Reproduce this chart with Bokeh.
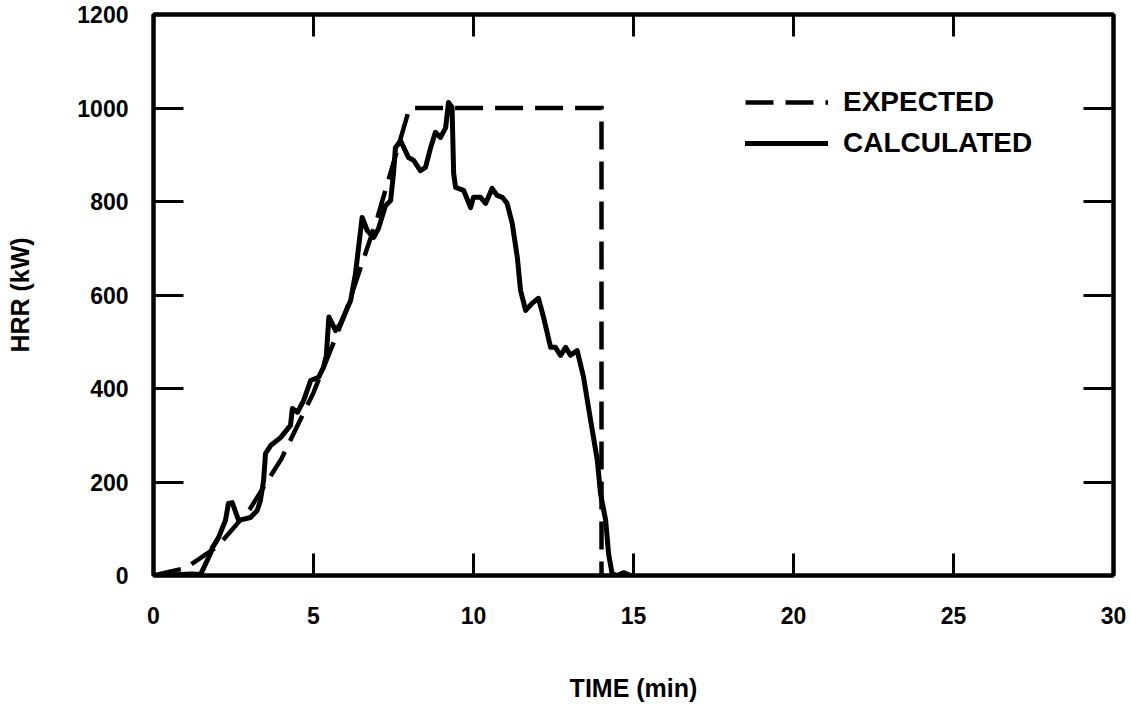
from bokeh.plotting import figure
from bokeh.models import FixedTicker, LinearAxis, Legend, LegendItem, Range1d
from bokeh.embed import file_html
from bokeh.resources import INLINE

# ---- data ----
time_expected = [0, 1, 2, 3, 4, 5, 6, 7, 8, 14, 14]
hrr_expected = [0, 16, 62, 141, 250, 391, 562, 766, 1000, 1000, 0]

time_calculated = [0, 0.4, 0.8, 1.2, 1.47, 1.78, 1.83, 2.03, 2.25, 2.34, 2.46, 2.66,
                   3.03, 3.24, 3.34, 3.44, 3.5, 3.66, 3.97, 4.28, 4.34, 4.5, 4.69,
                   4.91, 5.16, 5.31, 5.4, 5.48, 5.69, 5.84, 6.16, 6.31, 6.52, 6.68,
                   6.88, 7.03, 7.25, 7.41, 7.5, 7.56, 7.72, 7.97, 8.13, 8.34, 8.5,
                   8.66, 8.81, 8.97, 9.13, 9.22, 9.33, 9.38, 9.44, 9.69, 9.91, 10.0,
                   10.22, 10.38, 10.58, 10.74, 10.9, 11.05, 11.21, 11.37, 11.47,
                   11.63, 11.83, 12.03, 12.19, 12.41, 12.56, 12.72, 12.88, 13.03,
                   13.24, 13.44, 13.66, 13.87, 13.97, 14.13, 14.22, 14.33, 14.49,
                   14.69, 14.91]
hrr_calculated = [0, 0, 2, 3, 2, 47, 58, 81, 118, 154, 156, 118,
                  124, 139, 160, 203, 261, 278, 295, 321, 357, 349, 374,
                  417, 424, 445, 470, 553, 524, 538, 588, 645, 766, 738,
                  723, 742, 791, 802, 860, 915, 930, 894, 888, 866, 873,
                  915, 948, 937, 958, 1012, 1001, 860, 830, 824, 787, 809,
                  809, 796, 828, 813, 809, 796, 753, 680, 610,
                  567, 582, 593, 552, 488, 488, 471, 488, 471,
                  481, 424, 332, 246, 175, 118, 47, 4, 0,
                  6, 0]

x_ticks = [0, 5, 10, 15, 20, 25, 30]
y_ticks = [0, 200, 400, 600, 800, 1000, 1200]
x_title = "TIME (min)"
y_title = "HRR (kW)"
series_names = ["EXPECTED", "CALCULATED"]

FONT = "Liberation Sans"

p = figure(width=1130, height=704, output_backend="svg", toolbar_location=None,
           x_range=Range1d(0, 30), y_range=Range1d(0, 1200),
           x_axis_location=None, y_axis_location=None,
           min_border_left=153, min_border_right=17, min_border_top=14, min_border_bottom=129)
p.background_fill_color = "white"
p.border_fill_color = "white"
p.xgrid.visible = False
p.ygrid.visible = False
p.outline_line_color = "black"
p.outline_line_width = 4

def style_axis(ax, ticks, tick_in, show_labels):
    ax.ticker = FixedTicker(ticks=ticks)
    ax.axis_line_color = "black"
    ax.axis_line_width = 4
    ax.major_tick_in = tick_in
    ax.major_tick_out = 0
    ax.major_tick_line_width = 3
    ax.major_tick_line_color = "black"
    ax.minor_tick_line_color = None
    if show_labels:
        ax.major_label_text_font = FONT
        ax.major_label_text_font_style = "bold"
        ax.major_label_text_font_size = "23px"
        ax.major_label_text_color = "black"
        ax.axis_label_text_font = FONT
        ax.axis_label_text_font_style = "bold"
        ax.axis_label_text_font_size = "25px"
        ax.axis_label_text_color = "black"
    else:
        ax.major_label_text_font_size = "0px"
        ax.major_label_standoff = 0

bottom = LinearAxis(axis_label=x_title)
top = LinearAxis()
left = LinearAxis(axis_label=y_title)
right = LinearAxis()
style_axis(bottom, x_ticks, 22, True)
style_axis(top, x_ticks, 22, False)
style_axis(left, y_ticks, 30, True)
style_axis(right, y_ticks, 30, False)
bottom.major_label_standoff = 31
bottom.axis_label_standoff = 47
left.major_label_standoff = 25
left.axis_label_standoff = 40
p.add_layout(bottom, "below")
p.add_layout(top, "above")
p.add_layout(left, "left")
p.add_layout(right, "right")

r_exp = p.line(time_expected, hrr_expected, line_color="black", line_width=4.5,
               line_dash="28 12", line_cap="butt", line_join="miter")
r_calc = p.line(time_calculated, hrr_calculated, line_color="black", line_width=5,
                line_join="round", line_cap="round")

legend = Legend(items=[LegendItem(label=series_names[0], renderers=[r_exp]),
                       LegendItem(label=series_names[1], renderers=[r_calc])],
                location=(592, 416), orientation="vertical",
                glyph_width=83, glyph_height=26, label_height=26,
                label_standoff=15, spacing=9, padding=0, margin=0,
                border_line_color=None, background_fill_alpha=0,
                label_text_font=FONT, label_text_font_style="bold",
                label_text_font_size="28px", label_text_color="black")
p.add_layout(legend)

open("out.html", "w").write(file_html(p, INLINE))
